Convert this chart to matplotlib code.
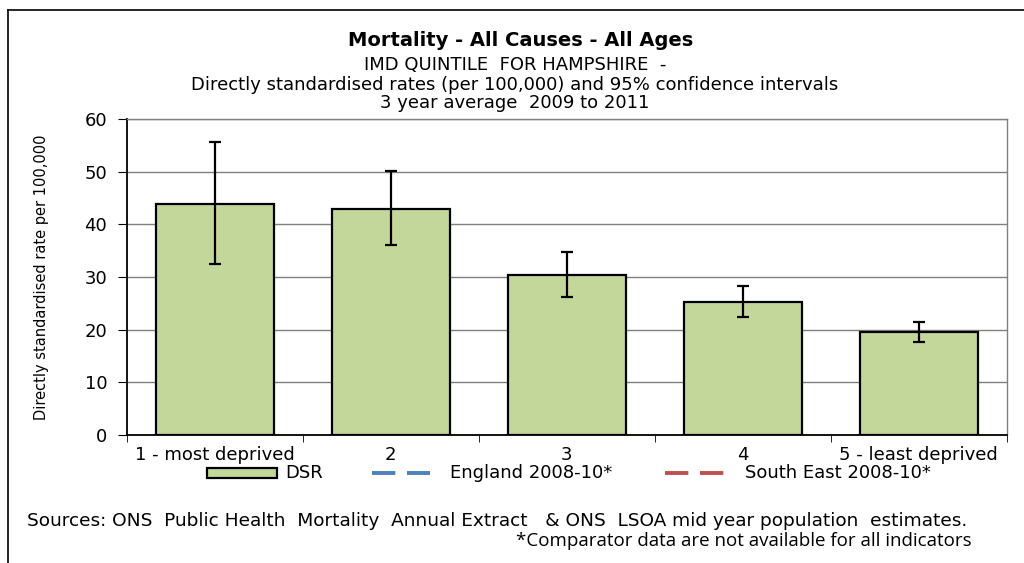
import matplotlib
matplotlib.use("Agg")
import matplotlib.pyplot as plt
from matplotlib.lines import Line2D
from matplotlib.patches import Rectangle
import numpy as np

categories = ["1 - most deprived", "2", "3", "4", "5 - least deprived"]
dsr = [43.9, 43.0, 30.4, 25.3, 19.5]
ci_upper = [55.6, 50.2, 34.7, 28.3, 21.4]
ci_lower = [32.4, 36.0, 26.2, 22.4, 17.7]
yticks = [0, 10, 20, 30, 40, 50, 60]

plt.rcParams['font.family'] = ['DejaVu Sans']

W, H = 1024, 563
fig = plt.figure(figsize=(W / 100, H / 100), dpi=100)
fig.patch.set_facecolor('white')

def fx(px):
    return px / W

def fy(py):
    return 1 - py / H

FS = 13

ax = fig.add_axes([fx(126.7), fy(435), fx(1006.7) - fx(126.7), fy(119) - fy(435)])
x = np.arange(len(categories))
vals = np.array(dsr)
yerr = np.array([vals - np.array(ci_lower), np.array(ci_upper) - vals])
ax.set_axisbelow(True)
ax.bar(x, vals, width=0.67, color='#c4d79b', edgecolor='black', linewidth=1.6, zorder=2)
ax.errorbar(x, vals, yerr=yerr, fmt='none', ecolor='black', elinewidth=1.6,
            capsize=4.3, capthick=1.6, zorder=3)

ax.set_xlim(-0.5, len(categories) - 0.5)
ax.set_ylim(0, 60)
ax.set_yticks(yticks)
ax.set_yticklabels([str(t) for t in yticks], fontsize=FS)
ax.yaxis.grid(True, color='#808080', linewidth=1.0)
ax.set_xticks(x)
ax.set_xticklabels(categories, fontsize=FS)
ax.tick_params(axis='x', which='major', length=0, pad=8)
ax.set_xticks(np.arange(len(categories) + 1) - 0.5, minor=True)
ax.tick_params(axis='x', which='minor', length=5, direction='out', color='black')
ax.tick_params(axis='y', length=6.5, direction='out', color='black', pad=7.5)
for s in ['top', 'right']:
    ax.spines[s].set_color('#808080')
    ax.spines[s].set_linewidth(1.0)
for s in ['left', 'bottom']:
    ax.spines[s].set_color('black')
    ax.spines[s].set_linewidth(1.3)
ax.set_ylabel("Directly standardised rate per 100,000", fontsize=10.5)
ax.yaxis.set_label_coords((49 - 126.7) / 880.0, 0.5)

# Titles
fig.text(fx(521), fy(41), "Mortality - All Causes - All Ages", ha='center', va='center',
         fontsize=14, fontweight='bold')
fig.text(fx(515), fy(65), "IMD QUINTILE  FOR HAMPSHIRE  -", ha='center', va='center', fontsize=FS)
fig.text(fx(515), fy(85), "Directly standardised rates (per 100,000) and 95% confidence intervals",
         ha='center', va='center', fontsize=FS)
fig.text(fx(515), fy(103), "3 year average  2009 to 2011", ha='center', va='center', fontsize=FS)

# Legend
ly = 473
fig.add_artist(Rectangle((fx(207), fy(478)), fx(277) - fx(207), fy(468) - fy(478),
                         facecolor='#c4d79b', edgecolor='black', linewidth=1.6,
                         transform=fig.transFigure))
fig.text(fx(285), fy(ly), "DSR", ha='left', va='center', fontsize=FS)
fig.add_artist(Line2D([fx(372), fx(430)], [fy(ly), fy(ly)], color='#4f81bd', linewidth=2.8,
                      dashes=(6, 3), transform=fig.transFigure))
fig.text(fx(450), fy(ly), "England 2008-10*", ha='left', va='center', fontsize=FS)
fig.add_artist(Line2D([fx(665), fx(725)], [fy(ly), fy(ly)], color='#c0504d', linewidth=2.8,
                      dashes=(6, 3), transform=fig.transFigure))
fig.text(fx(745), fy(ly), "South East 2008-10*", ha='left', va='center', fontsize=FS)

# Sources
fig.text(fx(27), fy(521), "Sources: ONS  Public Health  Mortality  Annual Extract   & ONS  LSOA mid year population  estimates.",
         ha='left', va='center', fontsize=13.3)
fig.text(fx(972), fy(541), "*Comparator data are not available for all indicators",
         ha='right', va='center', fontsize=13.5, family=['Open Sans', 'DejaVu Sans'])

# Outer border (top and left visible)
fig.add_artist(Line2D([fx(8), 1.0], [fy(10), fy(10)], color='black', linewidth=1.2,
                      transform=fig.transFigure))
fig.add_artist(Line2D([fx(8), fx(8)], [fy(10), 0.0], color='black', linewidth=1.2,
                      transform=fig.transFigure))

fig.savefig("out.png", dpi=100, facecolor='white')
